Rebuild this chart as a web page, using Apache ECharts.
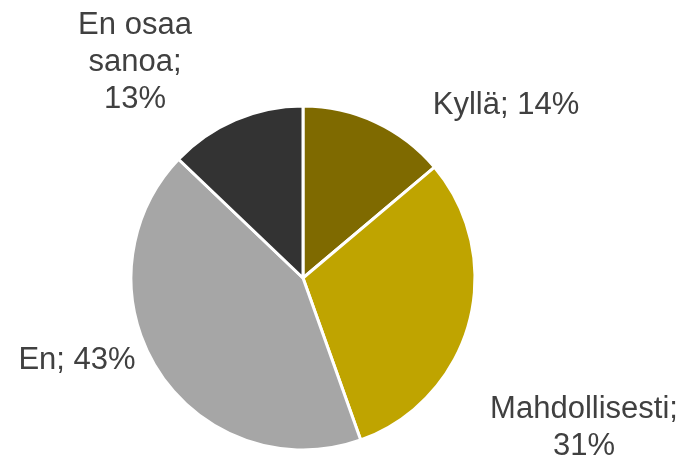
<!DOCTYPE html>
<html><head><meta charset="utf-8">
<script src="https://cdn.jsdelivr.net/npm/echarts@6/dist/echarts.min.js"></script>
<style>html,body{margin:0;padding:0;background:#fff}#c{width:684px;height:457px}</style>
</head><body><div id="c"></div>
<script>
const categories = ['Kyllä', 'Mahdollisesti', 'En', 'En osaa sanoa'];
const values = [14, 31, 43, 13];
const labelTexts = ['Kyllä; 14%', 'Mahdollisesti;\n31%', 'En; 43%', 'En osaa\nsanoa;\n13%'];
const colors = ['#7F6A00', '#BFA400', '#A6A6A6', '#333333'];
const labelPos = [[506, 105], [584, 428], [77, 360], [135, 62]];

const chart = echarts.init(document.getElementById('c'));
chart.setOption({
  animation: false,
  series: [{
    type: 'pie',
    center: [303, 278],
    radius: [0, 172],
    startAngle: 90,
    clockwise: true,
    itemStyle: { borderColor: '#fff', borderWidth: 3 },
    label: {
      show: true,
      position: 'outside',
      fontFamily: 'Liberation Sans, Arial, sans-serif',
      fontSize: 31,
      lineHeight: 37,
      color: '#404040',
      align: 'center',
      overflow: 'none',
      formatter: p => labelTexts[p.dataIndex]
    },
    labelLine: { show: false },
    labelLayout: p => ({ x: labelPos[p.dataIndex][0], y: labelPos[p.dataIndex][1], align: 'center', verticalAlign: 'middle', width: 400 }),
    data: categories.map((c, i) => ({ name: c, value: values[i], itemStyle: { color: colors[i] } }))
  }]
});
</script></body></html>
